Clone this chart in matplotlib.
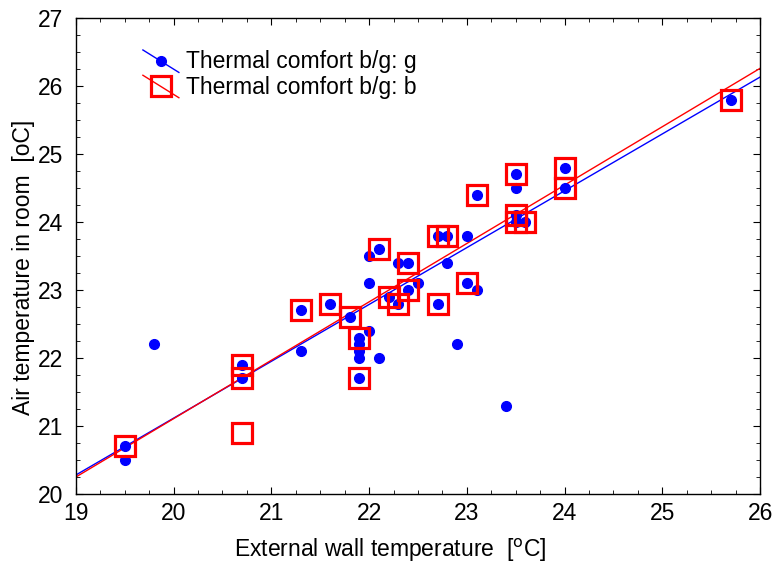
import numpy as np
import matplotlib.pyplot as plt
from matplotlib.lines import Line2D
from matplotlib.legend_handler import HandlerBase
from matplotlib.ticker import MultipleLocator

plt.rcParams['font.family'] = ['Liberation Sans', 'DejaVu Sans']

# group g (blue dots)
g_x = [19.5, 19.5, 19.8, 20.7, 20.7, 21.3, 21.3, 21.6, 21.8, 21.9, 21.9, 21.9,
       21.9, 21.9, 22.0, 22.1, 22.0, 22.0, 22.1, 22.3, 22.4, 22.2, 22.3, 22.4,
       22.5, 22.7, 22.8, 22.7, 22.8, 23.0, 23.1, 23.0, 23.1, 22.9, 23.4, 23.5,
       23.5, 23.5, 23.5, 23.6, 24.0, 24.0, 25.7]
g_y = [20.7, 20.5, 22.2, 21.9, 21.7, 22.1, 22.7, 22.8, 22.6, 22.3, 22.2, 22.1,
       22.0, 21.7, 22.4, 22.0, 23.1, 23.5, 23.6, 23.4, 23.4, 22.9, 22.8, 23.0,
       23.1, 22.8, 23.4, 23.8, 23.8, 23.8, 24.4, 23.1, 23.0, 22.2, 21.3, 24.7,
       24.5, 24.1, 24.0, 24.0, 24.8, 24.5, 25.8]

# group b (red squares)
b_x = [19.5, 20.7, 20.7, 20.7, 21.3, 21.6, 21.8, 21.9, 21.9, 22.1, 22.4, 22.2,
       22.3, 22.4, 22.7, 22.7, 22.8, 23.1, 23.0, 23.5, 23.5, 23.5, 23.6, 24.0,
       24.0, 25.7]
b_y = [20.7, 21.9, 21.7, 20.9, 22.7, 22.8, 22.6, 22.3, 21.7, 23.6, 23.4, 22.9,
       22.8, 23.0, 22.8, 23.8, 23.8, 24.4, 23.1, 24.7, 24.1, 24.0, 24.0, 24.8,
       24.5, 25.8]

# fitted lines: [slope, intercept]
fit_g = [0.836, 4.396]
fit_b = [0.8586, 3.937]


class DiagHandler(HandlerBase):
    def __init__(self, color, marker, ms, mew, mfc):
        super().__init__()
        self.color = color
        self.marker = marker
        self.ms = ms
        self.mew = mew
        self.mfc = mfc

    def create_artists(self, legend, orig_handle, xdescent, ydescent,
                       width, height, fontsize, trans):
        x0, x1 = -xdescent, -xdescent + width
        y0, y1 = -ydescent - 0.25 * height, -ydescent + 1.15 * height
        ln = Line2D([x0, x1], [y1, y0], color=self.color, lw=1, transform=trans)
        mk = Line2D([(x0 + x1) / 2], [(y0 + y1) / 2], ls='none',
                    marker=self.marker, ms=self.ms, mew=self.mew,
                    mec=self.color, mfc=self.mfc, transform=trans)
        return [ln, mk]


fig = plt.figure(figsize=(7.74, 5.64), dpi=100)
ax = fig.add_axes([0.098, 0.124, 0.884, 0.844])

xs = np.array([19, 26])
ax.plot(xs, np.polyval(fit_g, xs), color='blue', lw=1, zorder=2)
ax.plot(xs, np.polyval(fit_b, xs), color='red', lw=1, zorder=2)

ax.plot(g_x, g_y, ls='none', marker='o', ms=7, color='blue', mec='blue', zorder=3)
ax.plot(b_x, b_y, ls='none', marker='s', ms=14.5, mfc='none', mec='red', mew=2.3,
        zorder=4)

ax.set_xlim(19, 26)
ax.set_ylim(20, 27)
ax.xaxis.set_major_locator(MultipleLocator(1))
ax.yaxis.set_major_locator(MultipleLocator(1))
ax.xaxis.set_minor_locator(MultipleLocator(0.25))
ax.yaxis.set_minor_locator(MultipleLocator(0.25))
ax.tick_params(which='both', direction='in', top=True, right=True,
               labelsize=16.5)
ax.tick_params(axis='x', pad=6)
ax.tick_params(axis='y', pad=9)
ax.tick_params(which='major', length=5)
ax.tick_params(which='minor', length=3)
for s in ax.spines.values():
    s.set_linewidth(1)

ax.set_xlabel('External wall temperature  [$^{\\rm o}$C]', fontsize=16.5)
ax.set_ylabel('Air temperature in room  [oC]', fontsize=16.5)
ax.xaxis.set_label_coords(0.459, -0.09)
ax.yaxis.set_label_coords(-0.06, 0.477)

h1 = Line2D([], [])
h2 = Line2D([], [])
ax.legend([h1, h2], ['Thermal comfort b/g: g', 'Thermal comfort b/g: b'],
          handler_map={h1: DiagHandler('blue', 'o', 7, 1, 'blue'),
                       h2: DiagHandler('red', 's', 14.5, 2.3, 'none')},
          loc='upper left', bbox_to_anchor=(0.098, 0.932), frameon=False,
          fontsize=16.5, handlelength=1.57, handletextpad=0.3, labelspacing=0.1,
          borderaxespad=0, borderpad=0)

fig.savefig('out.png', dpi=100)
